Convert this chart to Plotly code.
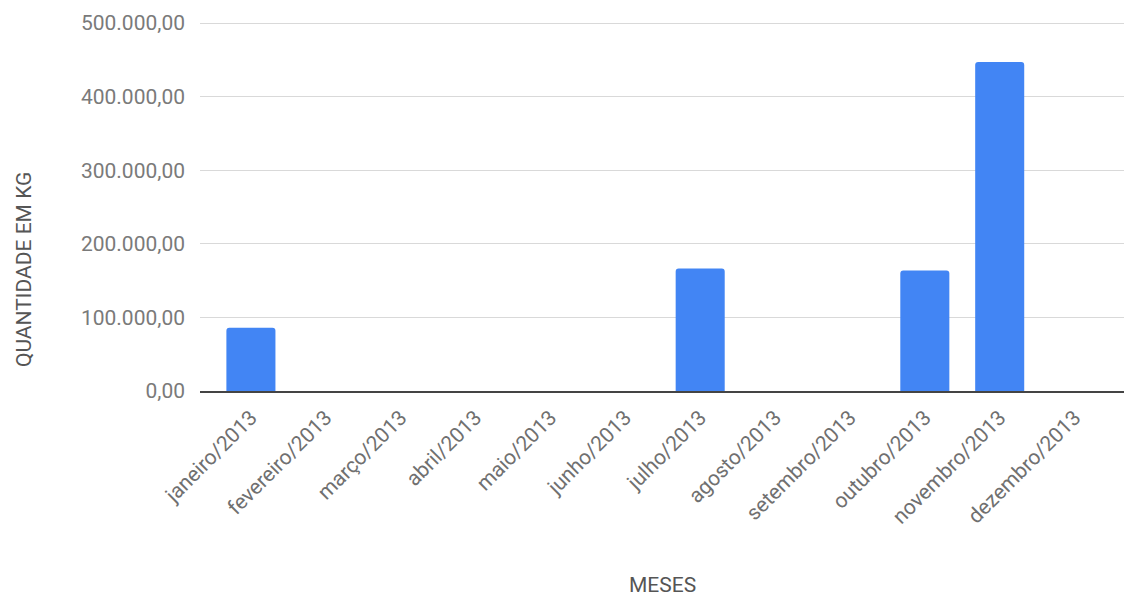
import plotly.graph_objects as go

# Monthly quantities (kg) for 2013
meses = [
    "janeiro/2013", "fevereiro/2013", "março/2013", "abril/2013",
    "maio/2013", "junho/2013", "julho/2013", "agosto/2013",
    "setembro/2013", "outubro/2013", "novembro/2013", "dezembro/2013",
]
quantidade_kg = [86000, 0, 0, 0, 0, 0, 166500, 0, 0, 163800, 447000, 0]

y_ticks = [0, 100000, 200000, 300000, 400000, 500000]

W, H = 1124, 599
M_L, M_R, M_T, M_B = 200, 0, 22, 208

fig = go.Figure(
    go.Bar(
        x=list(range(len(meses))),
        y=quantidade_kg,
        marker=dict(color="#4285F4", line=dict(width=0)),
        width=0.655,
    )
)

fig.update_layout(
    width=W,
    height=H,
    margin=dict(l=M_L, r=M_R, t=M_T, b=M_B, pad=0),
    paper_bgcolor="white",
    plot_bgcolor="white",
    separators=",.",
    showlegend=False,
    barcornerradius=3,
    font=dict(family="Roboto, Arial, sans-serif", color="#757575"),
)

fig.update_xaxes(
    tickmode="array",
    tickvals=list(range(len(meses))),
    ticktext=meses,
    tickangle=-45,
    tickfont=dict(size=21, color="#707070"),
    range=[-0.68, 11.66],
    showgrid=False,
    showline=True,
    linecolor="#444444",
    linewidth=2,
    ticks="",
    zeroline=False,
    ticklabelstandoff=4,
)

fig.update_yaxes(
    range=[0, 501500],
    tickmode="array",
    tickvals=y_ticks,
    tickformat=",.2f",
    tickfont=dict(size=21, color="#7a7a7a"),
    showgrid=True,
    gridcolor="#d9d9d9",
    gridwidth=1,
    zeroline=False,
    ticks="",
    ticklabelstandoff=14,
)

# Axis titles
fig.add_annotation(
    text="QUANTIDADE EM KG",
    xref="paper", yref="paper",
    x=-(M_L - 24) / (W - M_L - M_R),
    y=(H - M_B - 270) / (H - M_T - M_B),
    textangle=-90,
    showarrow=False,
    xanchor="center", yanchor="middle",
    font=dict(size=21, color="#555555"),
)
fig.add_annotation(
    text="MESES",
    xref="paper", yref="paper",
    x=0.5,
    y=-(585 - (H - M_B)) / (H - M_T - M_B),
    showarrow=False,
    xanchor="center", yanchor="middle",
    font=dict(size=21, color="#555555"),
)

fig.write_html("out.html")
